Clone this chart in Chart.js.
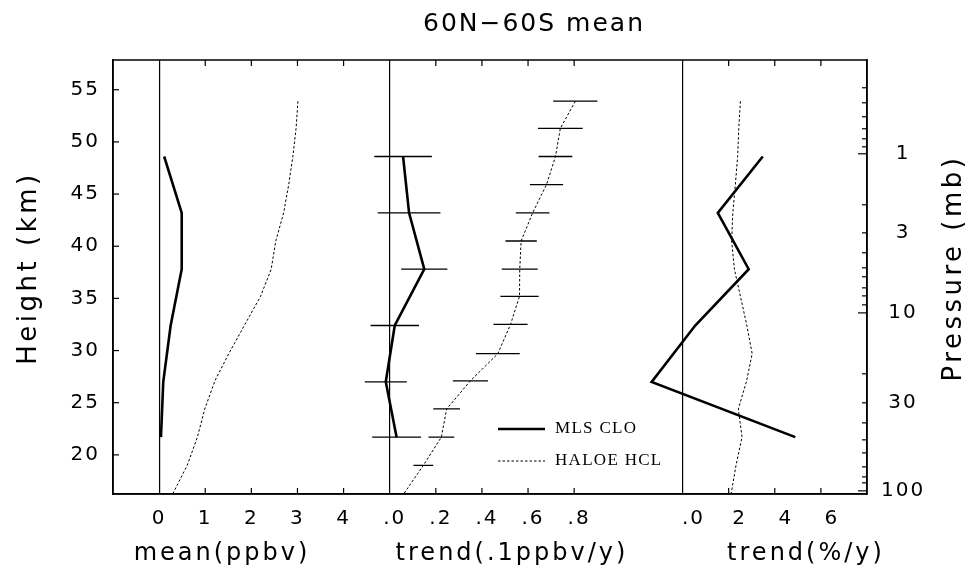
<!DOCTYPE html>
<html>
<head>
<meta charset="utf-8">
<script src="https://cdn.jsdelivr.net/npm/chart.js@4.4.1/dist/chart.umd.min.js"></script>
<style>
  html, body { margin: 0; padding: 0; background: #ffffff; }
  #wrap { width: 973px; height: 574px; }
</style>
</head>
<body>
<div id="wrap"><canvas id="c" width="973" height="574"></canvas></div>
<script>
// ---------------- data ----------------
const chartTitle = '60N\u221260S mean';

// MLS ClO levels (km)
const mlsHeights = [48.6, 43.2, 37.8, 32.4, 27.0, 21.7];
const mlsMean = [0.11, 0.49, 0.49, 0.25, 0.09, 0.04];          // ppbv
const mlsTrend = [0.058, 0.084, 0.150, 0.022, -0.017, 0.030];  // .1 ppbv/y
const mlsTrendErr = [0.125, 0.136, 0.100, 0.105, 0.091, 0.106];
const mlsPercent = [3.48, 1.53, 2.87, 0.55, -1.34, 4.89];      // %/y

// HALOE HCl levels (km)
const haloeHeights = [53.9, 51.3, 48.6, 45.9, 43.2, 40.5, 37.8, 35.2, 32.5, 29.7, 27.1, 24.4, 21.7, 19.0, 16.3];
const haloeMean = [3.01, 2.97, 2.90, 2.81, 2.70, 2.53, 2.43, 2.20, 1.86, 1.51, 1.21, 0.99, 0.83, 0.61, 0.30];
const haloeTrend = [0.805, 0.740, 0.719, 0.680, 0.620, 0.570, 0.564, 0.563, 0.524, 0.469, 0.350, 0.247, 0.224, 0.146, 0.062];
const haloeTrendErr = [0.096, 0.097, 0.073, 0.072, 0.073, 0.068, 0.078, 0.083, 0.074, 0.095, 0.076, 0.058, 0.056, 0.043, null];
const haloePercent = [2.51, 2.44, 2.39, 2.29, 2.18, 2.13, 2.25, 2.51, 2.78, 3.02, 2.78, 2.42, 2.58, 2.32, 2.11];

// axis ticks
const heightTicks = [20, 25, 30, 35, 40, 45, 50, 55];
const meanTicks = [0, 1, 2, 3, 4];
const meanTickLabels = ['0', '1', '2', '3', '4'];
const trendTicks = [0, 0.2, 0.4, 0.6, 0.8];
const trendTickLabels = ['.0', '.2', '.4', '.6', '.8'];
const pctTicks = [0, 2, 4, 6];
const pctTickLabels = ['.0', '2', '4', '6'];
const pressureValues = [0.4, 0.5, 0.6, 0.7, 0.8, 0.9, 1, 2, 3, 4, 5, 6, 7, 8, 9, 10, 20, 30, 40, 50, 60, 70, 80, 90, 100];
const pressureHeights = [55.19, 53.75, 52.41, 51.26, 50.30, 49.53, 48.86, 43.97, 41.28, 39.37, 37.93, 37.07, 36.01, 35.24, 34.38, 33.61, 27.77, 24.99, 23.07, 21.44, 20.19, 18.85, 17.89, 17.32, 16.55];
const pressureLabeled = [1, 3, 10, 30, 100];
const majorPressure = [1, 10, 100];

const legendLabels = ['MLS CLO', 'HALOE HCL'];
const axisTitles = { mean: 'mean(ppbv)', trend: 'trend(.1ppbv/y)', pct: 'trend(%/y)', height: 'Height (km)', pressure: 'Pressure (mb)' };

// ---------------- helpers ----------------
const FONT = '"DejaVu Sans", sans-serif';
Chart.defaults.font.family = FONT;
Chart.defaults.color = '#000';

function pts(xs, ys) { return xs.map((v, i) => ({ x: v, y: ys[i] })); }
function bars(xs, errs, ys) {
  const out = [];
  xs.forEach((v, i) => {
    if (errs[i] == null) return;
    out.push({ x: v - errs[i], y: ys[i] }, { x: v + errs[i], y: ys[i] }, { x: null, y: null });
  });
  return out;
}

const solid = { borderColor: '#000', borderWidth: 2.6, pointRadius: 0, tension: 0, fill: false, clip: false };
const dotted = { borderColor: '#000', borderWidth: 1, borderDash: [2.5, 2], pointRadius: 0, tension: 0, fill: false, clip: false };
const errStyle = { borderColor: '#000', borderWidth: 1.3, pointRadius: 0, tension: 0, fill: false, clip: false };

// ---------------- plugins ----------------
const spacingPlugin = {
  id: 'spacing',
  beforeLayout(chart) { chart.ctx.letterSpacing = '2px'; },
  beforeDraw(chart) {
    const ctx = chart.ctx;
    ctx.letterSpacing = '2px';
    ctx.save();
    ctx.fillStyle = '#fff';
    ctx.fillRect(0, 0, chart.width, chart.height);
    ctx.restore();
  },
  afterLayout(chart) {
    const tb = chart.titleBlock;
    if (tb) { tb.left += 47.5; tb.right += 47.5; }
  }
};

const framePlugin = {
  id: 'frame',
  afterDraw(chart) {
    const { ctx, chartArea: a, scales } = chart;
    ctx.save();
    ctx.strokeStyle = '#000';
    ctx.lineWidth = 1.5;
    ctx.strokeRect(a.left, a.top, a.right - a.left, a.bottom - a.top);
    ctx.lineWidth = 1.2;
    const line = (x1, y1, x2, y2) => { ctx.beginPath(); ctx.moveTo(x1, y1); ctx.lineTo(x2, y2); ctx.stroke(); };
    ['x1', 'x2', 'x3'].forEach(id => {
      const s = scales[id];
      s.ticks.forEach(t => {
        if (t.value === 0) return;
        const px = s.getPixelForValue(t.value);
        line(px, a.bottom, px, a.bottom - 6);
        line(px, a.top, px, a.top + 6);
      });
    });
    scales.y.ticks.forEach(t => {
      const py = scales.y.getPixelForValue(t.value);
      line(a.left, py, a.left + 6, py);
    });
    scales.y2.ticks.forEach((t, i) => {
      const py = scales.y2.getPixelForValue(t.value);
      const len = majorPressure.includes(pressureValues[i]) ? 9 : 5;
      line(a.right - len, py, a.right, py);
    });
    ctx.restore();
  }
};

const titlesPlugin = {
  id: 'axisTitles',
  afterDraw(chart) {
    const { ctx, scales } = chart;
    ctx.save();
    ctx.fillStyle = '#000';
    ctx.letterSpacing = '3px';
    ctx.font = '24px ' + FONT;
    ctx.textAlign = 'center';
    ctx.textBaseline = 'alphabetic';
    ctx.fillText(scales.x1.options.title.text, 222, 560);
    ctx.fillText(scales.x2.options.title.text, 512, 560);
    ctx.fillText(scales.x3.options.title.text, 806, 560);
    ctx.letterSpacing = '3.5px';
    ctx.font = '26px ' + FONT;
    ctx.textBaseline = 'middle';
    [[scales.y.options.title.text, 29], [scales.y2.options.title.text, 954]].forEach(([txt, x]) => {
      ctx.save();
      ctx.translate(x, 268);
      ctx.rotate(-Math.PI / 2);
      ctx.fillText(txt, 0, 0);
      ctx.restore();
    });
    ctx.restore();
  }
};

const legendPlugin = {
  id: 'inlineLegend',
  afterDraw(chart) {
    const ctx = chart.ctx;
    const rows = [[chart.data.datasets[0], 429], [chart.data.datasets[1], 461]];
    ctx.save();
    rows.forEach(([ds, y]) => {
      ctx.strokeStyle = ds.borderColor;
      ctx.lineWidth = ds.borderWidth;
      ctx.setLineDash(ds.borderDash || []);
      ctx.beginPath(); ctx.moveTo(498, y); ctx.lineTo(545, y); ctx.stroke();
      ctx.setLineDash([]);
      ctx.letterSpacing = '1.3px';
      ctx.font = '17px "Liberation Serif", serif';
      ctx.fillStyle = '#000';
      ctx.textAlign = 'left';
      ctx.textBaseline = 'middle';
      ctx.fillText(ds.label, 555, y);
    });
    ctx.restore();
  }
};

// ---------------- chart ----------------
const tickFont = { family: FONT, size: 20 };
const zeroGrid = {
  drawOnChartArea: true, drawTicks: false, lineWidth: 1.2,
  color: c => (c.tick && c.tick.value === 0) ? '#000' : 'rgba(0,0,0,0)'
};
const axisBorder = { display: true, color: '#000', width: 1.5 };
const Y_MIN = 16.25, Y_MAX = 57.85;

new Chart(document.getElementById('c'), {
  type: 'line',
  data: {
    datasets: [
      Object.assign({ label: legendLabels[0], data: pts(mlsMean, mlsHeights), xAxisID: 'x1', yAxisID: 'y' }, solid),
      Object.assign({ label: legendLabels[1], data: pts(haloeMean, haloeHeights), xAxisID: 'x1', yAxisID: 'y' }, dotted),
      Object.assign({ label: 'MLS CLO trend', data: pts(mlsTrend, mlsHeights), xAxisID: 'x2', yAxisID: 'y' }, solid),
      Object.assign({ label: 'MLS CLO trend error', data: bars(mlsTrend, mlsTrendErr, mlsHeights), xAxisID: 'x2', yAxisID: 'y' }, errStyle),
      Object.assign({ label: 'HALOE HCL trend', data: pts(haloeTrend, haloeHeights), xAxisID: 'x2', yAxisID: 'y' }, dotted),
      Object.assign({ label: 'HALOE HCL trend error', data: bars(haloeTrend, haloeTrendErr, haloeHeights), xAxisID: 'x2', yAxisID: 'y' }, errStyle),
      Object.assign({ label: 'MLS CLO %', data: pts(mlsPercent, mlsHeights), xAxisID: 'x3', yAxisID: 'y' }, solid),
      Object.assign({ label: 'HALOE HCL %', data: pts(haloePercent, haloeHeights), xAxisID: 'x3', yAxisID: 'y' }, dotted)
    ]
  },
  options: {
    responsive: false,
    maintainAspectRatio: false,
    animation: false,
    events: [],
    layout: { padding: 0 },
    plugins: {
      legend: { display: false },
      tooltip: { enabled: false },
      title: {
        display: true, text: chartTitle, color: '#000',
        font: { family: FONT, size: 25, weight: 'normal' },
        padding: { top: 9, bottom: 21 }
      }
    },
    scales: {
      x1: {
        type: 'linear', position: 'bottom', stack: 'panels', stackWeight: 6,
        min: -1, max: 5, bounds: 'data',
        afterBuildTicks: s => { s.ticks = meanTicks.map(v => ({ value: v })); },
        ticks: { autoSkip: false, maxRotation: 0, minRotation: 0, padding: 13, font: tickFont, color: '#000',
                 callback: (v, i) => meanTickLabels[i] },
        grid: zeroGrid, border: axisBorder,
        title: { display: false, text: axisTitles.mean },
        afterFit: s => { s.height = 80; }
      },
      x2: {
        type: 'linear', position: 'bottom', stack: 'panels', stackWeight: 6.35,
        min: 0, max: 1.27, bounds: 'data',
        afterBuildTicks: s => { s.ticks = trendTicks.map(v => ({ value: v })); },
        ticks: { autoSkip: false, maxRotation: 0, minRotation: 0, padding: 13, labelOffset: 5, font: tickFont, color: '#000',
                 callback: (v, i) => trendTickLabels[i] },
        grid: zeroGrid, border: axisBorder,
        title: { display: false, text: axisTitles.trend },
        afterFit: s => { s.height = 80; }
      },
      x3: {
        type: 'linear', position: 'bottom', stack: 'panels', stackWeight: 4,
        min: 0, max: 8, bounds: 'data',
        afterBuildTicks: s => { s.ticks = pctTicks.map(v => ({ value: v })); },
        ticks: { autoSkip: false, maxRotation: 0, minRotation: 0, padding: 13, labelOffset: 11, font: tickFont, color: '#000',
                 callback: (v, i) => pctTickLabels[i] },
        grid: zeroGrid, border: axisBorder,
        title: { display: false, text: axisTitles.pct },
        afterFit: s => { s.height = 80; }
      },
      y: {
        type: 'linear', position: 'left', min: Y_MIN, max: Y_MAX, bounds: 'data',
        afterBuildTicks: s => { s.ticks = heightTicks.map(v => ({ value: v })); },
        ticks: { autoSkip: false, padding: 13, font: tickFont, color: '#000' },
        grid: { drawOnChartArea: false, drawTicks: false },
        border: axisBorder,
        title: { display: false, text: axisTitles.height },
        afterFit: s => { s.width = 113; }
      },
      y2: {
        type: 'linear', position: 'right', min: Y_MIN, max: Y_MAX, bounds: 'data',
        afterBuildTicks: s => { s.ticks = pressureHeights.map(v => ({ value: v })); },
        ticks: { autoSkip: false, padding: 14, crossAlign: 'center', font: tickFont, color: '#000',
                 callback: (v, i) => pressureLabeled.includes(pressureValues[i]) ? String(pressureValues[i]) : '' },
        grid: { drawOnChartArea: false, drawTicks: false },
        border: axisBorder,
        title: { display: false, text: axisTitles.pressure },
        afterFit: s => { s.width = 106; }
      }
    }
  },
  plugins: [spacingPlugin, framePlugin, titlesPlugin, legendPlugin]
});
</script>
</body>
</html>
